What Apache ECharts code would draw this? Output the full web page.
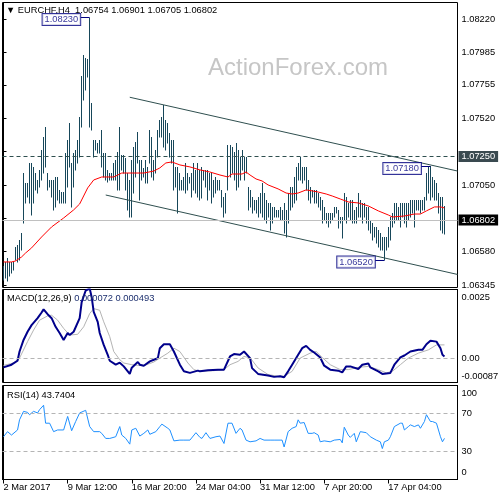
<!DOCTYPE html>
<html>
<head>
<meta charset="utf-8">
<script src="https://cdn.jsdelivr.net/npm/echarts@6/dist/echarts.min.js"></script>
<style>
html, body { margin: 0; padding: 0; background: #fff; }
#chart { width: 500px; height: 500px; }
</style>
</head>
<body>
<div id="chart"></div>
<script>
// EURCHF H4 bars (one per 4h bar)
const highs = [
  1.06479,1.06507,1.06535,1.06507,1.06507,1.06507,1.06613,1.06627,1.06662,1.06711,
  1.07134,1.07064,1.07064,1.07205,1.07205,1.07177,1.07134,1.07085,1.07156,1.07297,
  1.07388,1.07459,1.07134,1.07085,1.07085,1.07085,1.07106,1.07106,1.07015,1.07000,
  1.07000,1.07275,1.07367,1.07487,1.07205,1.07275,1.07297,1.07367,1.07529,1.07818,
  1.07966,1.07945,1.07938,1.08230,1.07628,1.07367,1.07367,1.07346,1.07367,1.07438,
  1.07275,1.07275,1.07156,1.07134,1.07134,1.07205,1.07226,1.07282,1.07459,1.07261,
  1.07261,1.07240,1.07134,1.07085,1.07226,1.07318,1.07353,1.07423,1.07226,1.07226,
  1.07170,1.07226,1.07177,1.07438,1.07388,1.07226,1.07297,1.07438,1.07508,1.07529,
  1.07614,1.07508,1.07487,1.07416,1.07367,1.07367,1.07177,1.07177,1.07134,1.07085,
  1.07106,1.07205,1.07134,1.07106,1.07134,1.07205,1.07156,1.07205,1.07156,1.07177,
  1.07156,1.07156,1.07156,1.07134,1.07134,1.07085,1.07106,1.07085,1.07085,1.07015,
  1.06965,1.06993,1.07332,1.07332,1.07318,1.07282,1.07346,1.07297,1.07247,1.07297,
  1.07247,1.07247,1.07036,1.07015,1.06965,1.06944,1.06944,1.06965,1.06993,1.07064,
  1.06993,1.06944,1.06923,1.06923,1.06895,1.06895,1.06874,1.06874,1.06895,1.06874,
  1.06923,1.06874,1.06993,1.07036,1.07036,1.07106,1.07177,1.07205,1.07247,1.07177,
  1.07177,1.07177,1.07085,1.07036,1.07015,1.07015,1.07015,1.06993,1.06965,1.06944,
  1.06895,1.06852,1.06852,1.06852,1.06852,1.06895,1.06895,1.06874,1.06824,1.06824,
  1.06993,1.06965,1.06923,1.06944,1.06944,1.06874,1.06895,1.06993,1.06944,1.06923,
  1.06923,1.06895,1.06895,1.06803,1.06782,1.06754,1.06754,1.06733,1.06711,1.06683,
  1.06683,1.06683,1.06754,1.06824,1.06852,1.06923,1.06923,1.06895,1.06923,1.06923,
  1.06923,1.06923,1.06923,1.06944,1.06944,1.06944,1.06944,1.06944,1.06944,1.06944,
  1.06965,1.07134,1.07177,1.07180,1.07106,1.07085,1.07064,1.06993,1.06965,1.06965,
  1.06901
];
const lows = [
  1.06380,1.06394,1.06373,1.06408,1.06429,1.06451,1.06521,1.06507,1.06521,1.06592,
  1.06782,1.06923,1.06965,1.06923,1.06838,1.06923,1.07015,1.06993,1.07036,1.07085,
  1.07134,1.07177,1.07015,1.07036,1.06965,1.06874,1.06895,1.06944,1.06923,1.06923,
  1.06923,1.06923,1.07036,1.07177,1.06895,1.07036,1.07156,1.07205,1.07247,1.07459,
  1.07649,1.07720,1.07811,1.07459,1.07438,1.07247,1.07297,1.07275,1.07275,1.07177,
  1.07106,1.07085,1.07071,1.07085,1.07085,1.07085,1.07085,1.07015,1.07015,1.07156,
  1.07134,1.07015,1.06874,1.06824,1.06824,1.06993,1.07106,1.07205,1.06944,1.07085,
  1.07106,1.07064,1.07064,1.07205,1.07106,1.07085,1.07134,1.07247,1.07388,1.07388,
  1.07318,1.07297,1.07346,1.07247,1.07205,1.07015,1.07036,1.06852,1.07015,1.07015,
  1.07015,1.06993,1.07015,1.07064,1.06965,1.07015,1.06993,1.06965,1.06944,1.06958,
  1.07085,1.07036,1.06944,1.07015,1.06923,1.06965,1.06993,1.07015,1.07015,1.06895,
  1.06824,1.06852,1.07015,1.07106,1.07134,1.07085,1.07015,1.07036,1.07085,1.07156,
  1.07085,1.07134,1.06874,1.06895,1.06852,1.06874,1.06852,1.06824,1.06852,1.06824,
  1.06803,1.06782,1.06824,1.06733,1.06782,1.06824,1.06824,1.06824,1.06803,1.06803,
  1.06711,1.06683,1.06782,1.06874,1.06895,1.06923,1.06944,1.07085,1.07085,1.07064,
  1.07085,1.07015,1.06944,1.06923,1.06965,1.06923,1.06923,1.06895,1.06874,1.06782,
  1.06803,1.06782,1.06754,1.06782,1.06803,1.06824,1.06852,1.06747,1.06782,1.06676,
  1.06803,1.06782,1.06824,1.06803,1.06782,1.06782,1.06782,1.06824,1.06824,1.06782,
  1.06824,1.06782,1.06733,1.06711,1.06662,1.06683,1.06641,1.06613,1.06592,1.06592,
  1.06520,1.06592,1.06613,1.06662,1.06754,1.06782,1.06803,1.06803,1.06754,1.06824,
  1.06782,1.06754,1.06803,1.06824,1.06852,1.06754,1.06874,1.06874,1.06852,1.06874,
  1.06874,1.06944,1.06993,1.06944,1.06965,1.06944,1.06944,1.06852,1.06733,1.06711,
  1.06705
];

// red moving average, [bar, price]
const maLine = [[0,1.06507],[4,1.06507],[6,1.06514],[9,1.06542],[11,1.06570],[14,1.06606],[19,1.06683],[24,1.06754],[30,1.06817],[35,1.06874],[38,1.06916],[42,1.07029],[45,1.07085],[49,1.07106],[55,1.07106],[59,1.07134],[65,1.07134],[70,1.07134],[75,1.07148],[78,1.07170],[81,1.07205],[84,1.07212],[88,1.07191],[93,1.07177],[98,1.07156],[103,1.07141],[108,1.07120],[112,1.07106],[114,1.07127],[119,1.07127],[121,1.07141],[123,1.07120],[126,1.07092],[129,1.07078],[132,1.07050],[137,1.07022],[141,1.06993],[144,1.06986],[147,1.06993],[151,1.07015],[154,1.07008],[157,1.07000],[161,1.06986],[164,1.06972],[168,1.06951],[172,1.06930],[177,1.06923],[182,1.06902],[187,1.06867],[192,1.06838],[194,1.06824],[200,1.06831],[205,1.06845],[208,1.06845],[211,1.06867],[215,1.06895],[218,1.06895],[220,1.06888]];

// falling channel, [bar, price]
const upperChannel = [[63, 1.07668], [226.5, 1.07148]];
const lowerChannel = [[51, 1.06979], [226.5, 1.06419]];

const swingPoints = [[43, 1.08230], [213, 1.07180], [190, 1.06520]];
const resistanceLevel = 1.07250;
const ohlc = [1.06754, 1.06901, 1.06705, 1.06802];
const lastClose = ohlc[3];

const macdLine = [[0,-0.000321],[4,-0.000225],[7,-0.000081],[8,0.000252],[10,0.000672],[12,0.000969],[14,0.001209],[17,0.00146],[19,0.001665],[20,0.001783],[22,0.001604],[24,0.00146],[26,0.001148],[28,0.000923],[30,0.000672],[32,0.000923],[33,0.000851],[35,0.000969],[38,0.00146],[39,0.002045],[41,0.002464],[43,0.002536],[44,0.002224],[45,0.001686],[47,0.001328],[48,0.000923],[50,0.000492],[52,0.000134],[53,-0.000081],[56,-0.000225],[58,-0.000153],[60,-0.000286],[63,-0.000558],[64,-0.000332],[67,-0.000128],[68,-0.000225],[70,-0.000261],[73,-0.000106],[75,-0.000045],[77,0.000015],[78,0.000374],[80,0.000517],[83,0.000517],[85,0.000252],[88,-0.000225],[90,-0.000465],[93,-0.000522],[97,-0.00044],[98,-0.000465],[102,-0.000429],[107,-0.000404],[110,-0.000404],[113,0.000073],[115,0.000159],[118,0.000134],[120,0.000252],[123,0.000015],[124,-0.00035],[127,-0.000558],[132,-0.000619],[135,-0.000666],[138,-0.000644],[140,-0.00068],[142,-0.000465],[144,-0.000225],[147,0.000134],[149,0.000374],[151,0.000456],[153,0.000313],[155,0.000216],[158,0.000037],[160,-0.000261],[163,-0.000404],[167,-0.00044],[169,-0.000501],[171,-0.000286],[173,-0.000286],[177,-0.000379],[179,-0.000225],[182,-0.000178],[183,-0.000321],[187,-0.000465],[189,-0.000558],[193,-0.000522],[195,-0.000225],[198,0.000037],[200,0.000109],[203,0.000252],[207,0.000313],[209,0.000313],[211,0.000517],[213,0.000646],[216,0.000611],[218,0.000374],[219,0.000134],[220,0.000072]];
const signalLine = [[0,-0.00025],[5,-0.000164],[8,0.000015],[12,0.000611],[15,0.00103],[18,0.001389],[22,0.001543],[24,0.001568],[27,0.001389],[30,0.001091],[33,0.000851],[37,0.000876],[40,0.001148],[43,0.001629],[45,0.001808],[48,0.001747],[50,0.001328],[53,0.00079],[55,0.000252],[58,-0.000045],[60,-0.000164],[64,-0.000225],[67,-0.00025],[70,-0.000261],[75,-0.000128],[78,0.000015],[82,0.000195],[85,0.000374],[88,0.000252],[92,-0.000164],[95,-0.000404],[98,-0.000465],[105,-0.00044],[110,-0.000404],[113,-0.000225],[117,-0.000106],[120,0.000073],[123,0.00003],[127,-0.000343],[132,-0.000583],[137,-0.000644],[140,-0.000644],[144,-0.000465],[148,0.000015],[153,0.000195],[156,0.000252],[159,0.000037],[163,-0.000225],[168,-0.000404],[172,-0.000404],[177,-0.000321],[182,-0.000286],[187,-0.000404],[191,-0.000522],[194,-0.000465],[198,-0.000225],[202,0.000015],[207,0.000195],[212,0.000313],[216,0.000492],[220,0.000493]];

const rsiLine = [[0,45.5],[2,50.9],[4,47.3],[7,52.7],[8,63.5],[10,72.5],[12,71.4],[13,68.9],[15,72.5],[17,70.8],[18,74.3],[20,79.0],[21,59.9],[23,59.9],[25,50.9],[27,52.7],[30,52.7],[32,67.1],[34,51.9],[36,61.7],[38,70.8],[41,73.6],[43,56.3],[45,50.9],[48,50.9],[49,49.1],[51,43.7],[53,43.7],[56,45.5],[58,56.3],[59,47.3],[61,43.7],[63,37.6],[64,52.7],[66,54.5],[68,46.2],[70,49.1],[72,52.7],[73,48.1],[76,50.9],[78,56.3],[79,58.9],[82,54.5],[83,52.7],[85,41.1],[88,41.9],[90,41.9],[93,41.9],[96,49.8],[98,44.8],[99,43.7],[101,49.8],[103,43.7],[106,45.5],[108,46.2],[110,38.3],[112,59.9],[114,59.9],[116,49.1],[118,54.5],[119,52.7],[121,41.9],[123,40.1],[126,41.1],[128,43.7],[130,41.9],[133,41.9],[135,41.9],[138,41.9],[139,41.9],[140,34.6],[142,50.9],[144,54.5],[146,56.3],[147,63.5],[148,59.9],[150,60.6],[152,49.1],[154,49.1],[155,49.8],[157,47.3],[158,40.1],[160,41.1],[163,40.1],[165,41.9],[168,42.6],[169,39.0],[170,55.6],[172,47.3],[173,44.8],[175,49.1],[176,40.1],[178,50.9],[181,49.8],[183,45.5],[186,41.9],[188,40.1],[189,32.9],[190,40.1],[192,41.9],[193,45.5],[195,56.3],[198,59.9],[199,59.9],[200,52.7],[202,56.3],[203,58.1],[205,56.3],[207,58.1],[208,54.5],[210,61.7],[211,68.9],[213,61.7],[214,61.7],[216,59.9],[218,45.5],[219,40.1],[220,43.74]];

const mainTicks = [1.06345, 1.0658, 1.06815, 1.0705, 1.07285, 1.0752, 1.07755, 1.07985, 1.0822];
const macdRange = [-0.00087, 0.0025];
const macdTickText = ['-0.00087', '0.00', '0.0025'];
const rsiRange = [0, 100];
const rsiLevels = [70, 30];
const dateLabels = ['2 Mar 2017', '9 Mar 12:00', '16 Mar 20:00', '24 Mar 04:00', '31 Mar 12:00', '7 Apr 20:00', '17 Apr 04:00'];
const slotCount = 227;   // bars plus the empty shift on the right
const labelEvery = 32;

const FONT = '"Liberation Sans", Arial, sans-serif';
const FS = 9.3;
const barColor = '#17475a';
const axisFont = { fontFamily: FONT, fontSize: FS, color: '#000' };
const slots = Array.from({ length: slotCount }, (_, i) => String(i));
const barData = highs.map((h, i) => [i, lows[i], h]);
// scale labels that sit under the price boxes are not drawn
const boxedPrices = [resistanceLevel, lastClose];

const chart = echarts.init(document.getElementById('chart'));

const gridBase = { left: 2.5, right: 42.5, show: true, borderColor: '#000', borderWidth: 1, backgroundColor: '#fff', outerBoundsMode: 'none' };
const hiddenX = (g) => ({ type: 'value', gridIndex: g, min: -0.5, max: slotCount - 0.5, show: false });
const dateTick = (idx) => idx % labelEvery === 0 && idx / labelEvery < dateLabels.length;

// one right-hand axis per label group, so the edge labels can sit inside the panel
function sideAxis(grid, range, values, text, vAlign, pad) {
  return {
    type: 'value', gridIndex: grid, position: 'right', min: range[0], max: range[1],
    axisLine: { show: true, lineStyle: { color: '#000' } },
    axisTick: { show: false },
    splitLine: { show: false },
    axisLabel: Object.assign({ customValues: values, margin: 4, verticalAlign: vAlign, padding: pad, formatter: text }, axisFont)
  };
}

function priceLine(value, color, dash, boxColor) {
  return [
    { coord: [-0.5, value], lineStyle: { color: color, type: dash, width: 1 },
      label: { show: true, position: 'end', distance: 1, formatter: value.toFixed(5),
        backgroundColor: boxColor, color: '#fff', padding: [1, 3, 0, 3], fontFamily: FONT, fontSize: FS, lineHeight: 10 } },
    { coord: [slotCount - 0.5, value] }
  ];
}

const titleStyle = { fontFamily: FONT, fontSize: FS, fontWeight: 'normal', color: '#000', lineHeight: 11 };

const option = {
  animation: false,
  backgroundColor: '#fff',
  textStyle: { fontFamily: FONT },
  title: [
    { text: '▼ EURCHF,H4  ' + ohlc.map(v => v.toFixed(5)).join(' '), left: 6, top: 5, padding: 0,
      textStyle: titleStyle },
    { text: 'MACD(12,26,9) {v|0.000072 0.000493}', left: 7, top: 293, padding: 0,
      textStyle: Object.assign({ rich: { v: { fontFamily: FONT, fontSize: FS, color: '#1c2f6e' } } }, titleStyle) },
    { text: 'RSI(14) 43.7404', left: 7, top: 389.5, padding: 0,
      textStyle: titleStyle }
  ],
  graphic: [
    { type: 'text', left: 208, top: 56, z: 0,
      style: { text: 'ActionForex.com', font: '24px "Liberation Sans", Arial, sans-serif', fill: '#c6c6c6' } }
  ],
  grid: [
    Object.assign({ top: 2.5, height: 285 }, gridBase),
    Object.assign({ top: 289.5, height: 93 }, gridBase),
    Object.assign({ top: 385.5, height: 94 }, gridBase)
  ],
  xAxis: [
    hiddenX(0), hiddenX(1), hiddenX(2),
    {
      type: 'category', gridIndex: 2, data: slots, boundaryGap: true, position: 'bottom',
      axisLine: { show: true, lineStyle: { color: '#000' } },
      axisTick: { show: true, alignWithLabel: true, interval: dateTick, length: 4, lineStyle: { color: '#000' } },
      axisLabel: Object.assign({ interval: dateTick, align: 'left', margin: 3.5,
        formatter: (v) => dateLabels[Number(v) / labelEvery] || '' }, axisFont),
      splitLine: { show: false }
    }
  ],
  yAxis: [
    {
      type: 'value', gridIndex: 0, position: 'right', min: 1.06327, max: 1.08336,
      axisLine: { show: true, lineStyle: { color: '#000' } },
      axisTick: { show: true, length: 3, customValues: mainTicks, lineStyle: { color: '#000' } },
      axisLabel: Object.assign({ customValues: mainTicks, margin: 4,
        formatter: (v) => boxedPrices.some(p => Math.abs(p - v) < 0.0005) ? '' : v.toFixed(5) }, axisFont),
      splitLine: { show: false }
    },
    sideAxis(1, macdRange, [0], () => macdTickText[1], 'middle', 0),
    sideAxis(1, macdRange, [macdRange[1]], () => macdTickText[2], 'top', [3, 0, 0, 0]),
    sideAxis(1, macdRange, [macdRange[0]], () => macdTickText[0], 'bottom', [0, 0, 2, 0]),
    sideAxis(2, rsiRange, rsiLevels, (v) => String(v), 'middle', 0),
    sideAxis(2, rsiRange, [rsiRange[1]], (v) => String(v), 'top', [3, 0, 0, 0]),
    sideAxis(2, rsiRange, [rsiRange[0]], (v) => String(v), 'bottom', [0, 0, 3, 0])
  ],
  series: [
    {
      name: 'bars', type: 'custom', xAxisIndex: 0, yAxisIndex: 0, clip: true,
      data: barData,
      encode: { x: 0, y: [1, 2] },
      renderItem: (params, api) => {
        const lo = api.coord([api.value(0), api.value(1)]);
        const hi = api.coord([api.value(0), api.value(2)]);
        const x = Math.round(lo[0] - 0.5) + 0.5;
        return { type: 'line', shape: { x1: x, y1: Math.round(lo[1]) + 0.5, x2: x, y2: Math.round(hi[1]) },
          style: { stroke: barColor, lineWidth: 1 } };
      }
    },
    {
      name: 'upper', type: 'line', xAxisIndex: 0, yAxisIndex: 0, data: upperChannel,
      symbol: 'none', silent: true, lineStyle: { color: '#2f4f4f', width: 1 }
    },
    {
      name: 'lower', type: 'line', xAxisIndex: 0, yAxisIndex: 0, data: lowerChannel,
      symbol: 'none', silent: true, lineStyle: { color: '#2f4f4f', width: 1 }
    },
    {
      name: 'ma', type: 'line', xAxisIndex: 0, yAxisIndex: 0, data: maLine, z: 3,
      symbol: 'none', lineStyle: { color: '#ff0000', width: 1 },
      markLine: {
        silent: true, symbol: ['none', 'none'], animation: false,
        data: [
          priceLine(resistanceLevel, '#2f4f4f', [4, 3], '#3a4a50'),
          priceLine(lastClose, '#c0c0c0', 'solid', '#000')
        ]
      }
    },
    {
      name: 'swings', type: 'scatter', xAxisIndex: 0, yAxisIndex: 0, z: 6,
      symbolSize: 1, itemStyle: { color: 'rgba(0,0,0,0)' },
      data: swingPoints.map(p => ({ value: p, label: { formatter: p[1].toFixed(5) } })),
      label: {
        show: true, position: 'left', distance: 9, offset: [0, 2], color: '#000080', backgroundColor: '#fff',
        borderColor: '#000080', borderWidth: 1, padding: [1, 2, 0, 2], fontFamily: FONT, fontSize: FS, lineHeight: 10
      },
      markLine: {
        silent: true, symbol: ['none', 'none'], animation: false, label: { show: false },
        lineStyle: { color: '#000080', type: 'solid', width: 1 },
        data: swingPoints.map(p => [{ coord: [p[0] - 4.5, p[1]] }, { coord: [p[0], p[1]] }])
      }
    },
    {
      name: 'signal', type: 'line', xAxisIndex: 1, yAxisIndex: 1, data: signalLine,
      symbol: 'none', lineStyle: { color: '#b4b4b4', width: 1 },
      markLine: {
        silent: true, symbol: ['none', 'none'], animation: false, label: { show: false },
        lineStyle: { color: '#b4b4b4', type: [4, 3], width: 1 },
        data: [{ yAxis: 0 }]
      }
    },
    {
      name: 'macd', type: 'line', xAxisIndex: 1, yAxisIndex: 1, data: macdLine,
      symbol: 'none', lineStyle: { color: '#00008b', width: 2 }
    },
    {
      name: 'rsi', type: 'line', xAxisIndex: 2, yAxisIndex: 4, data: rsiLine,
      symbol: 'none', lineStyle: { color: '#1e90ff', width: 1 },
      markLine: {
        silent: true, symbol: ['none', 'none'], animation: false, label: { show: false },
        lineStyle: { color: '#b4b4b4', type: [4, 3], width: 1 },
        data: rsiLevels.map(v => ({ yAxis: v }))
      }
    }
  ]
};

chart.setOption(option);
</script>
</body>
</html>
